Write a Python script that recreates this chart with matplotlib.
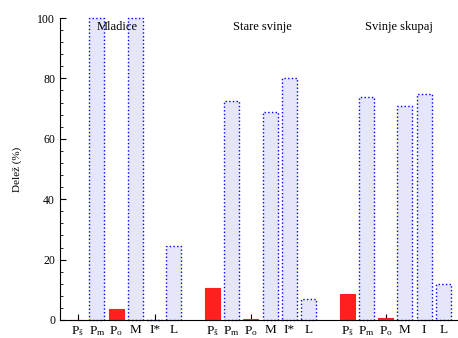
import matplotlib
matplotlib.use("Agg")
import matplotlib.pyplot as plt
from matplotlib.ticker import MultipleLocator
import numpy as np

plt.rcParams['font.family'] = ['Liberation Serif', 'DejaVu Serif']
plt.rcParams['mathtext.fontset'] = 'custom'
plt.rcParams['mathtext.rm'] = 'Liberation Serif'
plt.rcParams['mathtext.it'] = 'Liberation Serif'

groups = ["Mladice", "Stare svinje", "Svinje skupaj"]
labels_1 = ["$\\mathrm{P_{š}}$", "$\\mathrm{P_{m}}$", "$\\mathrm{P_{o}}$", "M", "I*", "L"]
labels_2 = ["$\\mathrm{P_{š}}$", "$\\mathrm{P_{m}}$", "$\\mathrm{P_{o}}$", "M", "I*", "L"]
labels_3 = ["$\\mathrm{P_{š}}$", "$\\mathrm{P_{m}}$", "$\\mathrm{P_{o}}$", "M", "I", "L"]
mladice = [0, 100, 3.6, 100, 0, 24.5]
stare = [10.7, 72.5, 0.2, 69, 80, 7.0]
skupaj = [8.5, 74, 0.7, 71, 75, 11.8]
red_cat = [True, False, True, False, False, False]
title_x = [2.05, 9.6, 16.7]

fig = plt.figure(figsize=(4.58, 3.38), dpi=100)
ax = fig.add_axes([0.131, 0.0533, 0.869, 0.8934])

ticks = []
ticklabels = []
for g, (vals, labs) in enumerate([(mladice, labels_1), (stare, labels_2), (skupaj, labels_3)]):
    x = np.arange(6) + g * 7
    for xi, v, r in zip(x, vals, red_cat):
        if r:
            ax.bar(xi, v, width=0.78, color='#ff1f1f', edgecolor='#ff1f1f', linewidth=0.8, clip_on=False)
        else:
            ax.bar(xi, v, width=0.78, color='#e6e6fb', edgecolor='#0000ff', linewidth=1.0,
                   linestyle=':', clip_on=False)
    ticks += list(x)
    ticklabels += labs
    ax.text(title_x[g], 97, groups[g], ha='center', va='center', fontsize=9)

ax.set_xlim(-0.92, 19.76)
ax.set_ylim(0, 100)
ax.set_xticks(ticks)
ax.set_xticklabels(ticklabels, fontsize=9.5)
ax.yaxis.set_major_locator(MultipleLocator(20))
ax.yaxis.set_minor_locator(MultipleLocator(4))
ax.tick_params(axis='both', direction='in', length=4, width=0.8)
ax.tick_params(axis='y', labelsize=8.5)
ax.tick_params(axis='y', which='minor', direction='in', length=2.5, width=0.6)
ax.tick_params(axis='x', pad=3)
ax.set_axisbelow(True)
ax.spines['top'].set_visible(False)
ax.spines['right'].set_visible(False)
ax.set_ylabel("Delež (%)", fontsize=8)
ax.yaxis.set_label_coords(-0.095, 0.5)

fig.savefig("out.png", dpi=100)
